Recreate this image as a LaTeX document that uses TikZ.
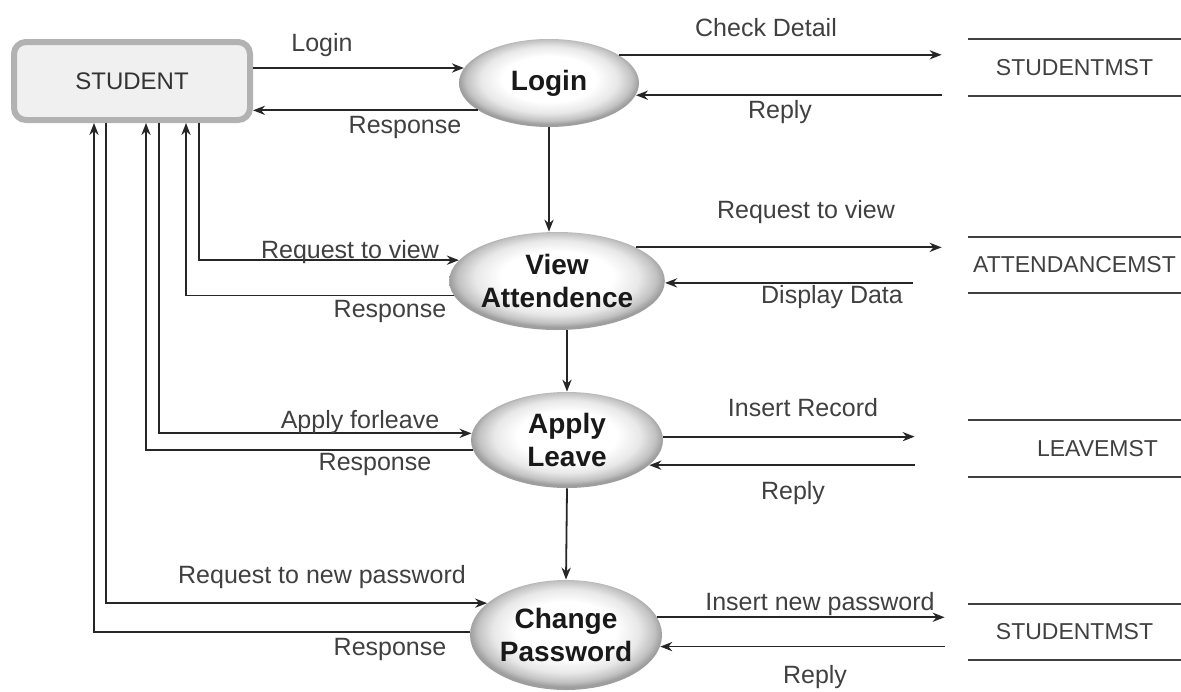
\documentclass[tikz,border=0pt]{standalone}
\usepackage{fontspec}
\setmainfont{Liberation Sans}
\usetikzlibrary{shapes.geometric,arrows.meta,calc}
\pgfdeclareradialshading{ellshade}{\pgfpoint{0bp}{3bp}}{color(0bp)=(white); color(13bp)=(white); color(19bp)=(black!9); color(23bp)=(black!24); color(25bp)=(black!38); color(50bp)=(black!38)}
\tikzset{
  arr/.style={-{Stealth[length=6pt,width=4.6pt]}, line width=0.9pt, draw=black!85},
  lbl/.style={font=\fontsize{12.5}{14}\selectfont, text=black!75, inner sep=0pt},
  ell/.style={ellipse, shade, shading=ellshade, font=\fontsize{14}{16.5}\selectfont\bfseries, text=black!90, align=center, inner sep=0pt},
  storeline/.style={draw=black!75, line width=1pt, -},
  store/.style={minimum width=106.5pt, minimum height=28pt, inner sep=0pt, text=black!75, font=\fontsize{11.5}{13}\selectfont,
    append after command={(\tikzlastnode.north west) edge[storeline] (\tikzlastnode.north east)
                          (\tikzlastnode.south west) edge[storeline] (\tikzlastnode.south east)}},
  studentbox/.style={rectangle, rounded corners=6pt, minimum width=118pt, minimum height=39pt, fill=black!6,
    draw=black!30, line width=3pt, font=\fontsize{12}{14}\selectfont, text=black!80}
}
\begin{document}
\begin{tikzpicture}[x=0.5pt,y=-0.5pt]
\useasboundingbox (0,0) rectangle (1181,691);
% entity
\node[studentbox] (student) at (132,81) {STUDENT};
% processes
\node[ell, minimum width=90pt, minimum height=44pt] (login) at (549,83) {Login};
\node[ell, minimum width=92pt, minimum height=49pt] (view) at (557,281) {View\\Attendence};
\node[ell, minimum width=96pt, minimum height=48pt] (apply) at (567,440) {Apply\\Leave};
\node[ell, minimum width=96pt, minimum height=55pt] (change) at (566,635) {Change\\Password};
% stores
\node[store] (s1) at (1074.5,67.5) {STUDENTMST};
\node[store] (s2) at (1074.5,265) {ATTENDANCEMST};
\node[store] (s3) at (1074.5,448.5) {\hspace*{23pt}LEAVEMST};
\node[store] (s4) at (1074.5,632) {STUDENTMST};
% login flows
\draw[arr] (login.170 -| student.east) -- (login.170);
\draw[arr] (login.201) -- (login.201 -| student.east);
\draw[arr] (login.22) -- ($(login.22 -| s1.west)+(-26,0)$);
\draw[arr] ($(login.352 -| s1.west)+(-26,0)$) -- (login.352);
\draw[arr] (login.south) -- (login.south |- view.north);
% view flows
\draw[arr] ($(student.south west)+(188,0)$) |- (view.168);
\draw[arr] (view.188) -| ($(student.south west)+(175,0)$);
\draw[arr] (view.23) -- ($(view.23 -| s2.west)+(-26,0)$);
\draw[arr] ($(view.359 -| s2.west)+(-55,0)$) -- (view.359);
\draw[arr] (apply.north |- view.south) -- (apply.north);
% apply flows
\draw[arr] ($(student.south west)+(148,0)$) |- (apply.176);
\draw[arr] (apply.186) -| ($(student.south west)+(135,0)$);
\draw[arr] (apply.2) -- ($(apply.2 -| s3.west)+(-53,0)$);
\draw[arr] ($(apply.343 -| s3.west)+(-53,0)$) -- (apply.343);
\draw[arr] (apply.south) -- (change.north);
% change flows
\draw[arr] ($(student.south west)+(95,0)$) |- (change.158);
\draw[arr] (change.178) -| ($(student.south west)+(83,0)$);
\draw[arr] (change.11) -- ($(change.11 -| s4.west)+(-23,0)$);
\draw[arr] ($(change.353 -| s4.west)+(-23,0)$) -- (change.353);
% labels
\node[lbl] (t1) at (322,45) {Login};
\node[lbl] (t2) at (405,127) {Response};
\node[lbl] (t3) at (766,28) {Check Detail};
\node[lbl] (t4) at (780,112) {Reply};
\node[lbl] (t5) at (350,252) {Request to view};
\node[lbl] (t6) at (390,311) {Response};
\node[lbl] (t7) at (806,212) {Request to view};
\node[lbl] (t8) at (832,297) {Display Data};
\node[lbl] (t9) at (360,422) {Apply forleave};
\node[lbl] (t10) at (375,464) {Response};
\node[lbl] (t11) at (803,408) {Insert Record};
\node[lbl] (t12) at (793,493) {Reply};
\node[lbl] (t13) at (322,577) {Request to new password};
\node[lbl] (t14) at (390,649) {Response};
\node[lbl] (t15) at (820,604) {Insert new password};
\node[lbl] (t16) at (815,677) {Reply};
\end{tikzpicture}
\end{document}
